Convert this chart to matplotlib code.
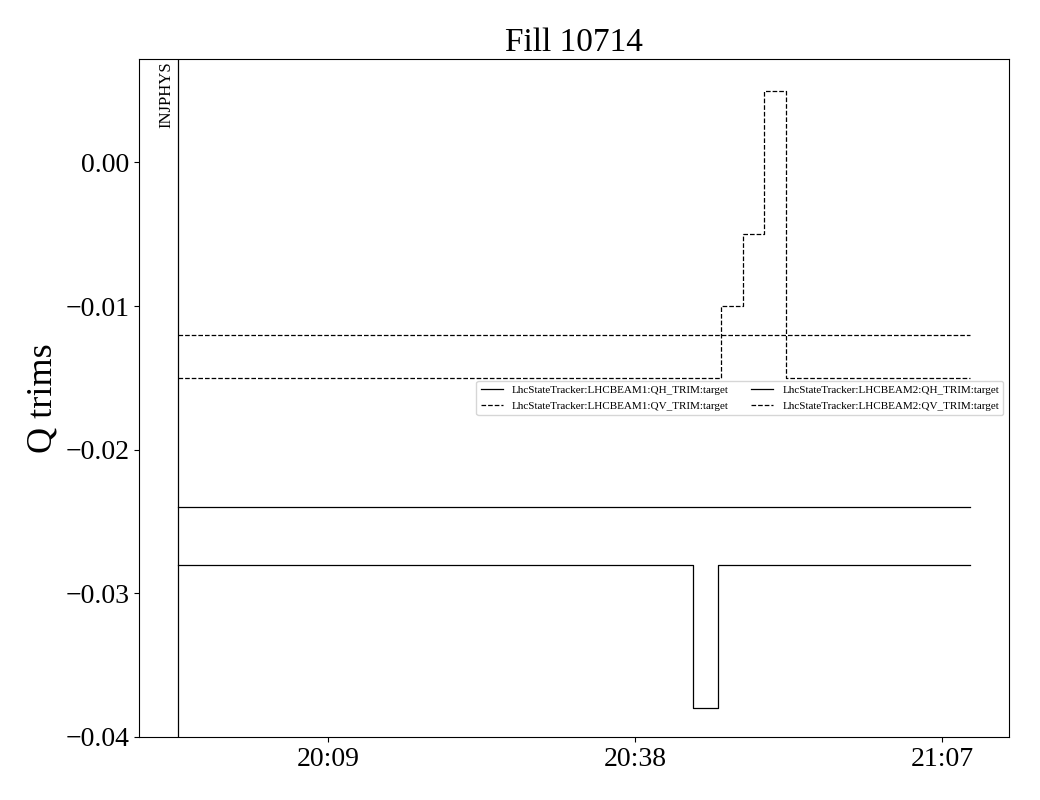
#!/usr/bin/env python3
"""
Q trims for fill 10714
"""
import numpy as np
import pandas as pd
import matplotlib
matplotlib.use('Agg')
import matplotlib.pyplot as plt
import matplotlib.dates as mdates
from matplotlib.ticker import FuncFormatter

plt.rcParams['font.family'] = ['Liberation Serif', 'DejaVu Serif']
plt.rcParams['mathtext.fontset'] = 'stix'

DAY = '2024-06-01 '

# trim targets (time, value), step-wise
b1_qh_t = ['19:54:50', '20:43:28', '20:45:50', '21:09:38']
b1_qh_v = [-0.028, -0.038, -0.028, -0.028]

b1_qv_t = ['19:54:50', '20:46:07', '20:48:11', '20:50:10', '20:52:15', '21:09:38']
b1_qv_v = [-0.015, -0.010, -0.005, 0.005, -0.015, -0.015]

b2_qh_t = ['19:54:50', '21:09:38']
b2_qh_v = [-0.024, -0.024]

b2_qv_t = ['19:54:50', '21:09:38']
b2_qv_v = [-0.012, -0.012]

mode_time = '19:54:50'
mode_label = 'INJPHYS'

tick_times = ['20:09', '20:38', '21:07']
x_range = ['19:51:09', '21:13:18']
y_ticks = [-0.04, -0.03, -0.02, -0.01, 0.00]


def ts(lst):
    return pd.to_datetime([DAY + s for s in lst])


fig = plt.figure(figsize=(10.4, 8), dpi=100)
ax = fig.add_axes([0.1337, 0.07875, 0.8365, 0.8475])

series = [
    ('LhcStateTracker:LHCBEAM1:QH_TRIM:target', b1_qh_t, b1_qh_v, '-'),
    ('LhcStateTracker:LHCBEAM1:QV_TRIM:target', b1_qv_t, b1_qv_v, '--'),
    ('LhcStateTracker:LHCBEAM2:QH_TRIM:target', b2_qh_t, b2_qh_v, '-'),
    ('LhcStateTracker:LHCBEAM2:QV_TRIM:target', b2_qv_t, b2_qv_v, '--'),
]
for name, t, v, ls in series:
    ax.plot(ts(t), v, color='k', linestyle=ls, linewidth=0.9,
            drawstyle='steps-post', label=name)

mt = ts([mode_time])[0]
ax.axvline(mt, color='k', linewidth=0.9)
ax.text(mt - pd.Timedelta(seconds=20), 0.0070, mode_label, rotation=90,
        ha='right', va='top', fontsize=12)

ax.set_xlim(ts(x_range))
ax.set_ylim(-0.04, 0.0072)
ax.set_xticks(ts(tick_times))
ax.xaxis.set_major_formatter(mdates.DateFormatter('%H:%M'))
ax.set_yticks(y_ticks)
ax.yaxis.set_major_formatter(FuncFormatter(lambda y, p: f'{y:.2f}'.replace('-', '\u2212')))
ax.tick_params(labelsize=20)

ax.set_ylabel('Q trims', fontsize=26)
ax.set_title('Fill 10714', fontsize=24)
ax.legend(loc='center right', ncol=2, fontsize=8)

fig.savefig('out.png', dpi=100)
